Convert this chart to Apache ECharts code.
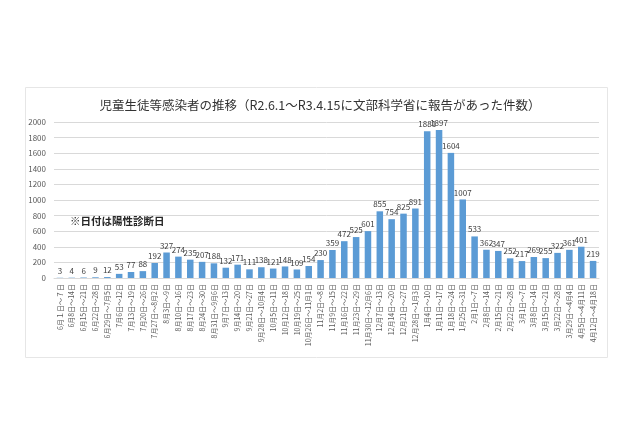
<!DOCTYPE html>
<html><head><meta charset="utf-8">
<script src="https://cdn.jsdelivr.net/npm/echarts@6/dist/echarts.min.js"></script>
<style>html,body{margin:0;padding:0;background:#fff}#c{width:640px;height:426px}</style>
</head><body><div id="c"></div>
<script>
const categories = ["6月１日～７日","6月8日～14日","6月15日～21日","6月22日～28日","6月29日～7月5日","7月6日～12日","7月13日～19日","7月20日～26日","7月27日～8月2日","8月3日～9日","8月10日～16日","8月17日～23日","8月24日～30日","8月31日～9月6日","9月7日～13日","9月14日～20日","9月21日～27日","9月28日～10月4日","10月5日～11日","10月12日～18日","10月19日～25日","10月26日～11月1日","11月2日～8日","11月9日～15日","11月16日～22日","11月23日～29日","11月30日～12月6日","12月7日～13日","12月14日～20日","12月21日～27日","12月28日～1月3日","1月4日～10日","1月11日～17日","1月18日～24日","1月25日～31日","2月1日～7日","2月8日～14日","2月15日～21日","2月22日～28日","3月1日～7日","3月8日～14日","3月15日～21日","3月22日～28日","3月29日～4月4日","4月5日～4月11日","4月12日～4月18日"];
const cases = [3,4,6,9,12,53,77,88,192,327,274,235,207,188,132,171,111,138,121,148,109,154,230,359,472,525,601,855,754,825,891,1881,1897,1604,1007,533,362,347,252,217,269,255,322,361,401,219];
const yTicks = [0,200,400,600,800,1000,1200,1400,1600,1800,2000];
const titleText = "児童生徒等感染者の推移（R2.6.1～R3.4.15に文部科学省に報告があった件数）";
const noteText = "※日付は陽性診断日";

const font = '"Noto Sans CJK JP", "Noto Sans", sans-serif';
const chart = echarts.init(document.getElementById('c'), null, {renderer:'canvas'});
chart.setOption({
  animation:false,
  backgroundColor:'#fff',
  textStyle:{fontFamily:font},
  title:{text:titleText,left:'center',top:94,
    textStyle:{fontSize:12.5,fontWeight:'normal',color:'#333333',fontFamily:font}},
  graphic:[
    {type:'rect',shape:{x:25.5,y:87.5,width:582,height:270},style:{fill:'none',stroke:'#e6e6e6',lineWidth:1},silent:true,z:-1},
    {type:'text',left:70,top:216,style:{text:noteText,font:'bold 10.5px '+font,fill:'#262626'}}
  ],
  grid:{left:54,right:41,top:122,height:156,containLabel:false},
  xAxis:{type:'category',data:categories,
    axisLine:{lineStyle:{color:'#d9d9d9'}},axisTick:{show:false},
    axisLabel:{rotate:90,interval:0,fontSize:7,color:'#595959',margin:6,fontFamily:font}},
  yAxis:{type:'value',min:0,max:2000,interval:200,
    axisLine:{show:false},axisTick:{show:false},
    splitLine:{lineStyle:{color:'#d9d9d9'}},
    axisLabel:{fontSize:8,color:'#595959',margin:8,
      formatter:v=>yTicks.includes(v)?String(v):''}},
  series:[{type:'bar',data:cases,barWidth:'55%',
    itemStyle:{color:'#5B9BD5'},
    label:{show:true,position:'top',fontSize:8,color:'#404040',distance:3}}]
});
</script></body></html>
